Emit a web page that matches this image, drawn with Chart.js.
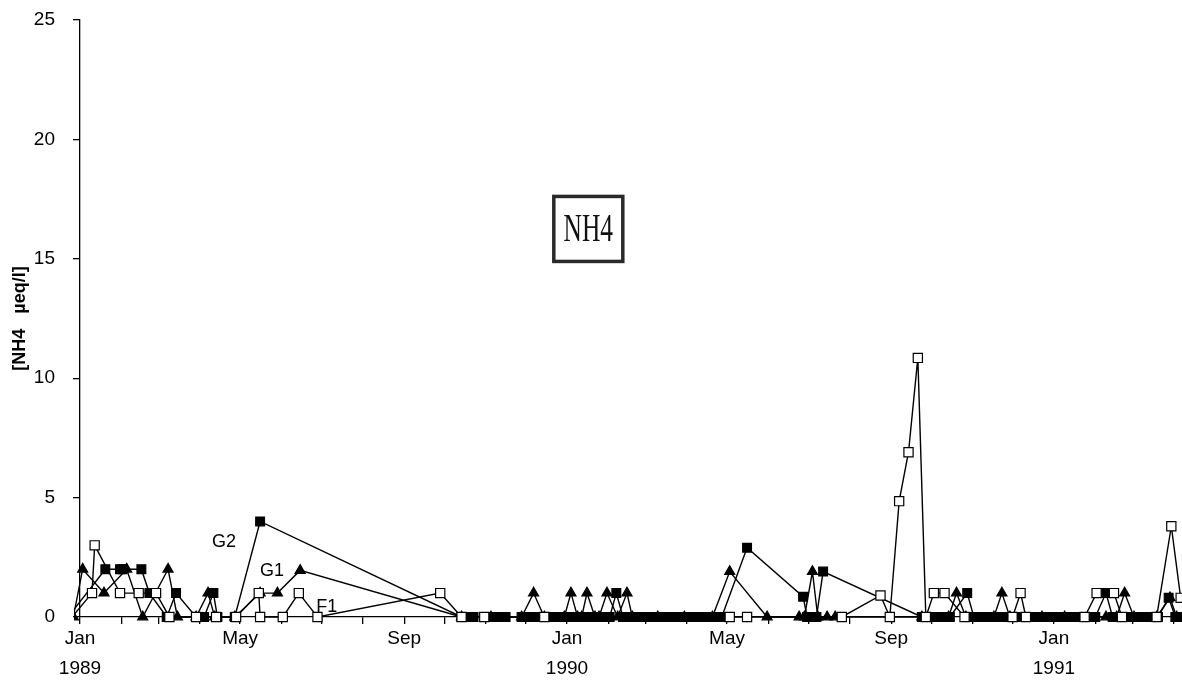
<!DOCTYPE html>
<html>
<head>
<meta charset="utf-8">
<script src="https://cdn.jsdelivr.net/npm/chart.js@4.4.1/dist/chart.umd.min.js"></script>
<style>
  html, body { margin: 0; padding: 0; background: #fff; overflow: hidden; }
  #wrap { position: relative; width: 1182px; height: 689px; }
  canvas { display: block; }
</style>
</head>
<body>
<div id="wrap"><canvas id="chart"></canvas></div>
<script>
// NH4 concentration (µeq/l) at sites F1, G1 and G2, Jan 1989 – Apr 1991.
// Each entry: [sampling date, value]

const F1 = [
  ['1988-12-26', 0], ['1989-01-10', 1], ['1989-01-12', 3], ['1989-01-31', 1],
  ['1989-02-14', 1], ['1989-02-27', 1], ['1989-03-09', 0], ['1989-03-29', 0],
  ['1989-04-13', 0], ['1989-04-28', 0], ['1989-05-15', 1], ['1989-05-16', 0],
  ['1989-06-02', 0], ['1989-06-14', 1], ['1989-06-28', 0], ['1989-09-28', 1],
  ['1989-10-14', 0], ['1989-10-31', 0], ['1989-12-15', 0], ['1990-05-03', 0],
  ['1990-05-16', 0], ['1990-07-26', 0], ['1990-08-24', 0.9], ['1990-08-31', 0],
  ['1990-09-07', 4.85], ['1990-09-14', 6.9], ['1990-09-21', 10.85], ['1990-09-27', 0],
  ['1990-10-03', 1], ['1990-10-11', 1], ['1990-10-26', 0], ['1990-12-01', 0],
  ['1990-12-07', 1], ['1990-12-11', 0], ['1991-01-24', 0], ['1991-02-02', 1],
  ['1991-02-15', 1], ['1991-02-21', 0], ['1991-03-19', 0], ['1991-03-30', 3.8],
  ['1991-04-06', 0.8]
];

const G1 = [
  ['1988-12-27', 0], ['1989-01-03', 2], ['1989-01-19', 1], ['1989-02-05', 2],
  ['1989-02-17', 0], ['1989-03-08', 2], ['1989-03-15', 0], ['1989-03-29', 0],
  ['1989-04-07', 1], ['1989-04-12', 0], ['1989-04-27', 0], ['1989-05-16', 1],
  ['1989-05-29', 1], ['1989-06-15', 1.95], ['1989-10-14', 0], ['1989-11-05', 0],
  ['1989-11-28', 0], ['1989-12-07', 1], ['1989-12-15', 0], ['1989-12-30', 0],
  ['1990-01-04', 1], ['1990-01-09', 0], ['1990-01-12', 0], ['1990-01-16', 1],
  ['1990-01-22', 0], ['1990-01-25', 0], ['1990-01-31', 1], ['1990-02-08', 0],
  ['1990-02-15', 1], ['1990-02-19', 0], ['1990-03-10', 0], ['1990-03-30', 0],
  ['1990-04-20', 0], ['1990-05-03', 1.9], ['1990-05-31', 0], ['1990-06-24', 0],
  ['1990-06-28', 0], ['1990-07-04', 1.9], ['1990-07-08', 0], ['1990-07-15', 0],
  ['1990-07-21', 0], ['1990-09-24', 0], ['1990-10-14', 0], ['1990-10-20', 1],
  ['1990-10-27', 0], ['1990-11-17', 0], ['1990-11-23', 1], ['1990-11-29', 0],
  ['1990-12-23', 0], ['1991-01-09', 0], ['1991-02-09', 0], ['1991-02-17', 0],
  ['1991-02-23', 1], ['1991-03-02', 0], ['1991-03-19', 0], ['1991-03-29', 0.8],
  ['1991-04-03', 0]
];

const G2 = [
  ['1988-12-23', 0], ['1989-01-20', 2], ['1989-01-31', 2], ['1989-02-02', 2],
  ['1989-02-16', 2], ['1989-02-22', 1], ['1989-03-07', 0], ['1989-03-14', 1],
  ['1989-03-29', 0], ['1989-04-04', 0], ['1989-04-11', 1], ['1989-04-14', 0],
  ['1989-04-27', 0], ['1989-05-16', 4], ['1989-10-14', 0], ['1989-10-19', 0],
  ['1989-10-23', 0], ['1989-11-02', 0], ['1989-11-05', 0], ['1989-11-11', 0],
  ['1989-11-16', 0], ['1989-11-28', 0], ['1989-12-02', 0], ['1989-12-06', 0],
  ['1989-12-10', 0], ['1989-12-17', 0], ['1989-12-22', 0], ['1989-12-27', 0],
  ['1990-01-01', 0], ['1990-01-06', 0], ['1990-01-11', 0], ['1990-01-16', 0],
  ['1990-01-21', 0], ['1990-01-27', 0], ['1990-02-02', 0], ['1990-02-07', 1],
  ['1990-02-12', 0], ['1990-02-17', 0], ['1990-02-22', 0], ['1990-02-27', 0],
  ['1990-03-04', 0], ['1990-03-09', 0], ['1990-03-14', 0], ['1990-03-19', 0],
  ['1990-03-24', 0], ['1990-03-29', 0], ['1990-04-03', 0], ['1990-04-08', 0],
  ['1990-04-13', 0], ['1990-04-18', 0], ['1990-04-23', 0], ['1990-04-27', 0],
  ['1990-05-16', 2.9], ['1990-06-27', 0.85], ['1990-06-30', 0], ['1990-07-03', 0],
  ['1990-07-07', 0], ['1990-07-12', 1.9], ['1990-09-24', 0], ['1990-09-28', 0],
  ['1990-10-02', 0], ['1990-10-06', 0], ['1990-10-10', 0], ['1990-10-15', 0],
  ['1990-10-28', 1], ['1990-11-02', 0], ['1990-11-07', 0], ['1990-11-12', 0],
  ['1990-11-17', 0], ['1990-11-22', 0], ['1990-11-27', 0], ['1990-12-02', 0],
  ['1990-12-07', 0], ['1990-12-12', 0], ['1990-12-17', 0], ['1990-12-22', 0],
  ['1990-12-27', 0], ['1991-01-01', 0], ['1991-01-06', 0], ['1991-01-11', 0],
  ['1991-01-16', 0], ['1991-01-21', 0], ['1991-01-26', 0], ['1991-02-01', 0],
  ['1991-02-09', 1], ['1991-02-14', 0], ['1991-02-19', 0], ['1991-02-24', 0],
  ['1991-03-01', 0], ['1991-03-06', 0], ['1991-03-11', 0], ['1991-03-16', 0],
  ['1991-03-20', 0], ['1991-03-28', 0.8], ['1991-04-02', 0], ['1991-04-06', 0]
];

// Axis: month tick marks, labels every four months
const monthTicks = [
  '1989-01-01', '1989-02-01', '1989-03-01', '1989-04-01', '1989-05-01', '1989-06-01',
  '1989-07-01', '1989-08-01', '1989-09-01', '1989-10-01', '1989-11-01', '1989-12-01',
  '1990-01-01', '1990-02-01', '1990-03-01', '1990-04-01', '1990-05-01', '1990-06-01',
  '1990-07-01', '1990-08-01', '1990-09-01', '1990-10-01', '1990-11-01', '1990-12-01',
  '1991-01-01', '1991-02-01', '1991-03-01', '1991-04-01'
];
const monthLabels = ['Jan', '', '', '', 'May', '', '', '', 'Sep', '', '', ''];
const axisStart = '1989-01-01';
const axisEnd = '1991-04-07';
const yTicks = [0, 5, 10, 15, 20, 25];

const seriesNames = ['F1', 'G1', 'G2'];
const seriesLabelAnchors = [
  ['1989-07-05', 0.42],  // F1
  ['1989-05-25', 1.93],  // G1
  ['1989-04-19', 3.15]   // G2
];
const boxTitle = 'NH4';
const boxAnchor = ['1990-01-17', 16.25];

const ORIGIN = Date.UTC(1989, 0, 1);
function dayOf(s) {
  const [y, m, d] = s.split('-').map(Number);
  return Math.round((Date.UTC(y, m - 1, d) - ORIGIN) / 86400000);
}
const toXY = arr => arr.map(([d, v]) => ({ x: dayOf(d), y: v }));

const tickLabelByDay = {};
monthTicks.forEach(s => {
  const [y, m] = s.split('-').map(Number);
  const name = monthLabels[m - 1];
  tickLabelByDay[dayOf(s)] = (m === 1) ? [name, String(y)] : name;
});

const FONT = "'Liberation Sans', Arial, Helvetica, sans-serif";

const annotations = {
  id: 'annotations',
  afterDatasetsDraw(chart) {
    const { ctx, scales: { x, y } } = chart;
    ctx.save();
    // series names
    ctx.fillStyle = '#000';
    ctx.font = '18px ' + FONT;
    ctx.textAlign = 'center';
    ctx.textBaseline = 'middle';
    seriesNames.forEach((name, i) => {
      const [d, v] = seriesLabelAnchors[i];
      ctx.fillText(name, x.getPixelForValue(dayOf(d)), y.getPixelForValue(v));
    });
    // framed title
    const cx = x.getPixelForValue(dayOf(boxAnchor[0]));
    const cy = y.getPixelForValue(boxAnchor[1]);
    const w = 69, h = 65;
    ctx.fillStyle = '#fff';
    ctx.fillRect(cx - w / 2, cy - h / 2, w, h);
    ctx.strokeStyle = '#2a2a2a';
    ctx.lineWidth = 3.5;
    ctx.strokeRect(cx - w / 2, cy - h / 2, w, h);
    ctx.translate(cx, cy + 1);
    ctx.scale(0.62, 1);
    ctx.fillStyle = '#111';
    ctx.font = "41px 'Liberation Serif', 'Times New Roman', serif";
    ctx.textAlign = 'center';
    ctx.textBaseline = 'middle';
    ctx.fillText(boxTitle, 0, 0);
    ctx.restore();
  }
};

const lineBase = {
  showLine: true,
  borderColor: '#000',
  borderWidth: 1.4,
  tension: 0,
  fill: false,
  pointBorderColor: '#000',
  pointBorderWidth: 1.2,
  pointHoverRadius: 6,
  clip: { left: 6, top: 10, right: 0, bottom: 10 }
};

new Chart(document.getElementById('chart'), {
  type: 'line',
  data: {
    datasets: [
      Object.assign({}, lineBase, {
        label: 'F1', data: toXY(F1), pointStyle: 'rect', pointRadius: 6.5,
        pointBackgroundColor: '#fff'
      }),
      Object.assign({}, lineBase, {
        label: 'G1', data: toXY(G1), pointStyle: 'triangle', pointRadius: 5.8,
        pointBackgroundColor: '#000'
      }),
      Object.assign({}, lineBase, {
        label: 'G2', data: toXY(G2), pointStyle: 'rect', pointRadius: 6.2,
        pointBackgroundColor: '#000'
      })
    ]
  },
  options: {
    responsive: true,
    maintainAspectRatio: false,
    devicePixelRatio: 1,
    animation: false,
    layout: { autoPadding: false, padding: { left: 0, right: 0, top: 20, bottom: 5 } },
    plugins: { legend: { display: false }, tooltip: { enabled: false } },
    scales: {
      x: {
        type: 'linear',
        min: dayOf(axisStart),
        max: dayOf(axisEnd),
        afterBuildTicks: s => { s.ticks = monthTicks.map(d => ({ value: dayOf(d) })); },
        afterFit: s => { s.paddingRight = 0; },
        ticks: {
          autoSkip: false,
          maxRotation: 0,
          padding: 0,
          color: '#000',
          font: { family: FONT, size: 19, lineHeight: 1.58 },
          callback: v => tickLabelByDay[v] ?? ''
        },
        grid: { drawOnChartArea: false, drawTicks: true, tickLength: 7, color: '#000', lineWidth: 1.3 },
        border: { display: true, color: '#000', width: 1.3 }
      },
      y: {
        min: 0,
        max: 25,
        afterBuildTicks: s => { s.ticks = yTicks.map(v => ({ value: v })); },
        afterFit: s => { s.width = 80; s.paddingTop = 0; s.paddingBottom = 0; },
        ticks: {
          padding: 18,
          color: '#000',
          font: { family: FONT, size: 19 }
        },
        grid: { drawOnChartArea: false, drawTicks: true, tickLength: 7, color: '#000', lineWidth: 1.3 },
        border: { display: true, color: '#000', width: 1.3 },
        title: {
          display: true,
          text: '[NH4   µeq/l]',
          color: '#000',
          font: { family: FONT, size: 18, weight: 'bold' },
          padding: { top: 9, bottom: 0 }
        }
      }
    }
  },
  plugins: [annotations]
});
</script>
</body>
</html>
